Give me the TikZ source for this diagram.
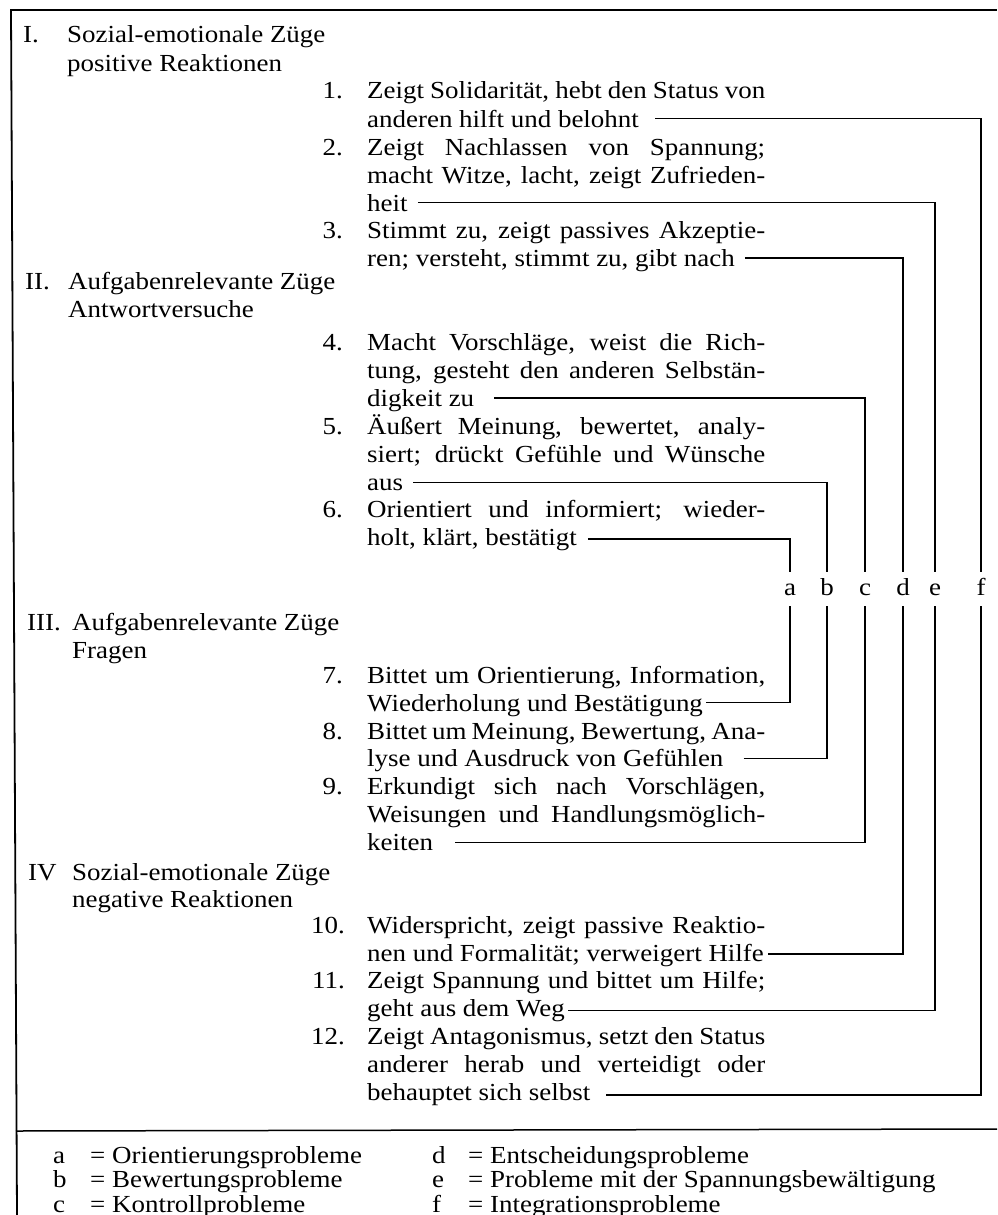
\documentclass[tikz,border=0pt]{standalone}
\usepackage{fontspec}
\setmainfont{Liberation Serif}[FakeStretch=1.1]
\newcommand{\justline}[1]{\makebox[398pt][s]{#1}}
\begin{document}
\begin{tikzpicture}[x=1pt,y=-1pt,
  every node/.style={inner sep=0pt, font=\fontsize{24.5pt}{28pt}\selectfont},
  txt/.style={anchor=base west},
  num/.style={anchor=base east},
  frameline/.style={line width=1.8pt},
  conn/.style={line width=1.3pt},
  letter/.style={anchor=center, minimum height=34pt, text height=12pt, text depth=0pt}]
\useasboundingbox (0,0) rectangle (997,1215);
% frame
\draw[frameline] (10,10) -- (997,10);
\draw[frameline] (11,10) -- (17,1215);
\draw[line width=1.5pt] (16,1131) -- (997,1129);

% headings
\node[txt] (hI) at (23,43) {I.};
\node[txt] (hIa) at (67,43) {Sozial-emotionale Züge};
\node[txt] (hIb) at (67,71) {positive Reaktionen};
\node[txt] (hII) at (25,289) {II.};
\node[txt] (hIIa) at (68,289) {Aufgabenrelevante Züge};
\node[txt] (hIIb) at (68,317) {Antwortversuche};
\node[txt] (hIII) at (27,630) {III.};
\node[txt] (hIIIa) at (72,630) {Aufgabenrelevante Züge};
\node[txt] (hIIIb) at (72,658) {Fragen};
\node[txt] (hIV) at (28,880) {IV};
\node[txt] (hIVa) at (72,880) {Sozial-emotionale Züge};
\node[txt] (hIVb) at (72,907) {negative Reaktionen};

% item 1
\node[num] (n1) at (343,99) {1.};
\node[txt] (t1a) at (367,99) {\justline{Zeigt Solidarität, hebt den Status von}};
\node[txt] (t1) at (367,127) {anderen hilft und belohnt};
% item 2
\node[num] (n2) at (343,155) {2.};
\node[txt] (t2a) at (367,155) {\justline{Zeigt Nachlassen von Spannung;}};
\node[txt] (t2b) at (367,183) {\justline{macht Witze, lacht, zeigt Zufrieden-}};
\node[txt] (t2) at (367,211) {heit};
% item 3
\node[num] (n3) at (343,238.5) {3.};
\node[txt] (t3a) at (367,238.5) {\justline{Stimmt zu, zeigt passives Akzeptie-}};
\node[txt] (t3) at (367,266.5) {ren; versteht, stimmt zu, gibt nach};
% item 4
\node[num] (n4) at (343,350) {4.};
\node[txt] (t4a) at (367,350) {\justline{Macht Vorschläge, weist die Rich-}};
\node[txt] (t4b) at (367,378) {\justline{tung, gesteht den anderen Selbstän-}};
\node[txt] (t4) at (367,406) {digkeit zu};
% item 5
\node[num] (n5) at (343,434) {5.};
\node[txt] (t5a) at (367,434) {\justline{Äußert Meinung, bewertet, analy-}};
\node[txt] (t5b) at (367,462) {\justline{siert; drückt Gefühle und Wünsche}};
\node[txt] (t5) at (367,490) {aus};
% item 6
\node[num] (n6) at (343,517.5) {6.};
\node[txt] (t6a) at (367,517.5) {\justline{Orientiert und informiert; wieder-}};
\node[txt] (t6) at (367,545.5) {holt, klärt, bestätigt};
% item 7
\node[num] (n7) at (343,683.5) {7.};
\node[txt] (t7a) at (367,683.5) {\justline{Bittet um Orientierung, Information,}};
\node[txt] (t7) at (367,711) {Wiederholung und Bestätigung};
% item 8
\node[num] (n8) at (343,739) {8.};
\node[txt] (t8a) at (367,739) {\justline{Bittet um Meinung, Bewertung, Ana-}};
\node[txt] (t8) at (367,766.5) {lyse und Ausdruck von Gefühlen};
% item 9
\node[num] (n9) at (343,794.5) {9.};
\node[txt] (t9a) at (367,794.5) {\justline{Erkundigt sich nach Vorschlägen,}};
\node[txt] (t9b) at (367,822) {\justline{Weisungen und Handlungsmöglich-}};
\node[txt] (t9) at (367,850) {keiten};
% item 10
\node[num] (n10) at (345,933) {10.};
\node[txt] (t10a) at (367,933) {\justline{Widerspricht, zeigt passive Reaktio-}};
\node[txt] (t10) at (367,961) {nen und Formalität; verweigert Hilfe};
% item 11
\node[num] (n11) at (345,988) {11.};
\node[txt] (t11a) at (367,988) {\justline{Zeigt Spannung und bittet um Hilfe;}};
\node[txt] (t11) at (367,1016) {geht aus dem Weg};
% item 12
\node[num] (n12) at (345,1044.5) {12.};
\node[txt] (t12a) at (367,1044.5) {\justline{Zeigt Antagonismus, setzt den Status}};
\node[txt] (t12b) at (367,1072.5) {\justline{anderer herab und verteidigt oder}};
\node[txt] (t12) at (367,1100.5) {behauptet sich selbst};

% category letters
\node[letter] (a) at (790,589) {a};
\node[letter] (b) at (827,589) {b};
\node[letter] (c) at (865,589) {c};
\node[letter] (d) at (903,589) {d};
\node[letter] (e) at (935,589) {e};
\node[letter] (f) at (981,589) {f};

% connectors
\draw[conn] ([shift={(16,-8.5)}]t1.base east) -| (f.north);
\draw[conn] ([shift={(10,-8.5)}]t2.base east) -| (e.north);
\draw[conn] ([shift={(10,-8.5)}]t3.base east) -| (d.north);
\draw[conn] ([shift={(20,-8)}]t4.base east) -| (c.north);
\draw[conn] ([shift={(10,-7.5)}]t5.base east) -| (b.north);
\draw[conn] ([shift={(11,-6.5)}]t6.base east) -| (a.north);
\draw[conn] ([shift={(3,-8.5)}]t7.base east) -| (a.south);
\draw[conn] ([shift={(20,-8)}]t8.base east) -| (b.south);
\draw[conn] ([shift={(22,-7.5)}]t9.base east) -| (c.south);
\draw[conn] ([shift={(4,-7)}]t10.base east) -| (d.south);
\draw[conn] ([shift={(3,-5.5)}]t11.base east) -| (e.south);
\draw[conn] ([shift={(16,-5.5)}]t12.base east) -| (f.south);

% legend
\node[txt] (la) at (53,1163) {a};
\node[txt] (lat) at (90,1163) {= Orientierungsprobleme};
\node[txt] (lb) at (53,1187.5) {b};
\node[txt] (lbt) at (90,1187.5) {= Bewertungsprobleme};
\node[txt] (lc) at (53,1212) {c};
\node[txt] (lct) at (90,1212) {= Kontrollprobleme};
\node[txt] (ld) at (432,1163) {d};
\node[txt] (ldt) at (468,1163) {= Entscheidungsprobleme};
\node[txt] (le) at (432,1187.5) {e};
\node[txt] (let) at (468,1187.5) {= Probleme mit der Spannungsbewältigung};
\node[txt] (lf) at (432,1212) {f};
\node[txt] (lft) at (468,1212) {= Integrationsprobleme};
\end{tikzpicture}
\end{document}
